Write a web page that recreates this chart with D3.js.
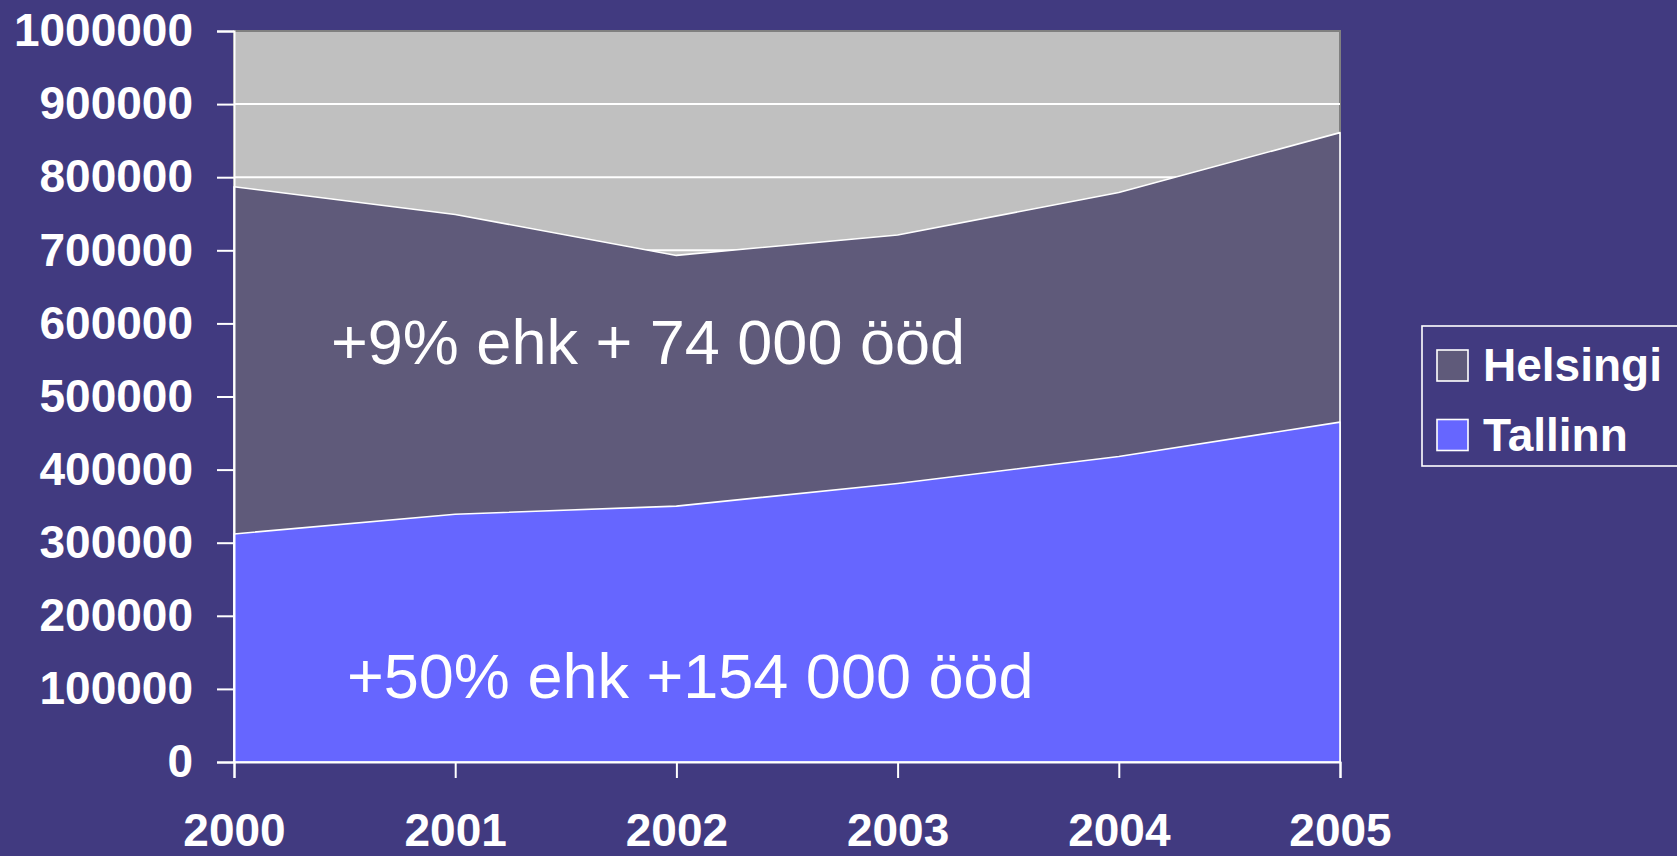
<!DOCTYPE html>
<html>
<head>
<meta charset="utf-8">
<script src="https://cdn.jsdelivr.net/npm/d3@7"></script>
<style>
  html, body { margin: 0; padding: 0; background: #413a80; overflow: hidden; }
  svg { display: block; }
  text { font-family: "Liberation Sans", Arial, sans-serif; fill: #fff; }
</style>
</head>
<body>
<svg id="chart" width="1677" height="856"></svg>
<script>
// data
var years = [2000, 2001, 2002, 2003, 2004, 2005];
var helsingi = [787000, 749000, 693000, 721000, 779000, 861000];
var tallinn = [312000, 339000, 350000, 381000, 418000, 465000];
var yTicks = [0, 100000, 200000, 300000, 400000, 500000, 600000, 700000, 800000, 900000, 1000000];
var seriesNames = ['Helsingi', 'Tallinn'];
var notes = ['+9% ehk + 74 000 ööd', '+50% ehk +154 000 ööd'];

var plotLeft = 234, plotRight = 1340, plotTop = 31, plotBottom = 762;
var colors = { plot: '#c0c0c0', hel: '#5f5a7a', tal: '#6666ff' };

var svg = d3.select('#chart');

var x = d3.scalePoint()
  .domain(years)
  .range([plotLeft, plotRight]);

var y = d3.scaleLinear()
  .domain([0, 1000000])
  .range([plotBottom, plotTop]);

// plot area
svg.append('rect')
  .attr('x', plotLeft).attr('y', plotTop)
  .attr('width', plotRight - plotLeft).attr('height', plotBottom - plotTop)
  .attr('fill', colors.plot)
  .attr('stroke', '#808080')
  .attr('stroke-width', 2);

// gridlines (behind the areas)
svg.append('g')
  .selectAll('line')
  .data(yTicks.slice(1, -1))
  .enter().append('line')
  .attr('x1', plotLeft).attr('x2', plotRight)
  .attr('y1', function(d){ return y(d); })
  .attr('y2', function(d){ return y(d); })
  .attr('stroke', '#fff')
  .attr('stroke-width', 2);

function areaOf(vals){
  return d3.area()
    .x(function(d, i){ return x(years[i]); })
    .y0(y(0))
    .y1(function(d){ return y(d); })(vals);
}

// areas overlap, Tallinn drawn in front
svg.append('path')
  .attr('d', areaOf(helsingi))
  .attr('fill', colors.hel)
  .attr('stroke', '#fff')
  .attr('stroke-width', 1.6)
  .attr('stroke-linejoin', 'round');

svg.append('path')
  .attr('d', areaOf(tallinn))
  .attr('fill', colors.tal)
  .attr('stroke', '#fff')
  .attr('stroke-width', 1.6)
  .attr('stroke-linejoin', 'round');

// y axis
var yAxis = d3.axisLeft(y)
  .tickValues(yTicks)
  .tickSize(17)
  .tickPadding(24)
  .tickFormat(d3.format('d'));

var gy = svg.append('g')
  .attr('transform', 'translate(' + plotLeft + ',0)')
  .call(yAxis);
gy.select('.domain').attr('stroke', '#fff').attr('stroke-width', 2);
gy.selectAll('.tick line').attr('stroke', '#fff').attr('stroke-width', 2);
gy.selectAll('.tick text')
  .attr('fill', '#fff')
  .style('font-size', '46px')
  .style('font-weight', 'bold')
  .style('font-family', '"Liberation Sans", Arial, sans-serif');

// x axis
var xAxis = d3.axisBottom(x)
  .tickSize(16)
  .tickPadding(0)
  .tickFormat(d3.format('d'));

var gx = svg.append('g')
  .attr('transform', 'translate(0,' + plotBottom + ')')
  .call(xAxis);
gx.select('.domain').attr('stroke', '#fff').attr('stroke-width', 2);
gx.selectAll('.tick line').attr('stroke', '#fff').attr('stroke-width', 2);
gx.selectAll('.tick text')
  .attr('fill', '#fff')
  .attr('y', 84)
  .attr('dy', 0)
  .style('font-size', '46px')
  .style('font-weight', 'bold')
  .style('font-family', '"Liberation Sans", Arial, sans-serif');

// annotations
svg.append('text')
  .attr('x', 331).attr('y', 364)
  .style('font-size', '63px')
  .text(notes[0]);

svg.append('text')
  .attr('x', 347).attr('y', 698)
  .style('font-size', '63px')
  .text(notes[1]);

// legend
var lg = svg.append('g');
lg.append('rect')
  .attr('x', 1422).attr('y', 326)
  .attr('width', 300).attr('height', 140)
  .attr('fill', 'none')
  .attr('stroke', '#fff')
  .attr('stroke-width', 1.6);

var lgColors = [colors.hel, colors.tal];
var items = lg.selectAll('g.item')
  .data(seriesNames)
  .enter().append('g')
  .attr('class', 'item')
  .attr('transform', function(d, i){ return 'translate(1437,' + (350 + i * 69.5) + ')'; });

items.append('rect')
  .attr('width', 31).attr('height', 31)
  .attr('fill', function(d, i){ return lgColors[i]; })
  .attr('stroke', '#fff')
  .attr('stroke-width', 1.6);

items.append('text')
  .attr('x', 46).attr('y', 31)
  .style('font-size', '46px')
  .style('font-weight', 'bold')
  .text(function(d){ return d; });
</script>
</body>
</html>
